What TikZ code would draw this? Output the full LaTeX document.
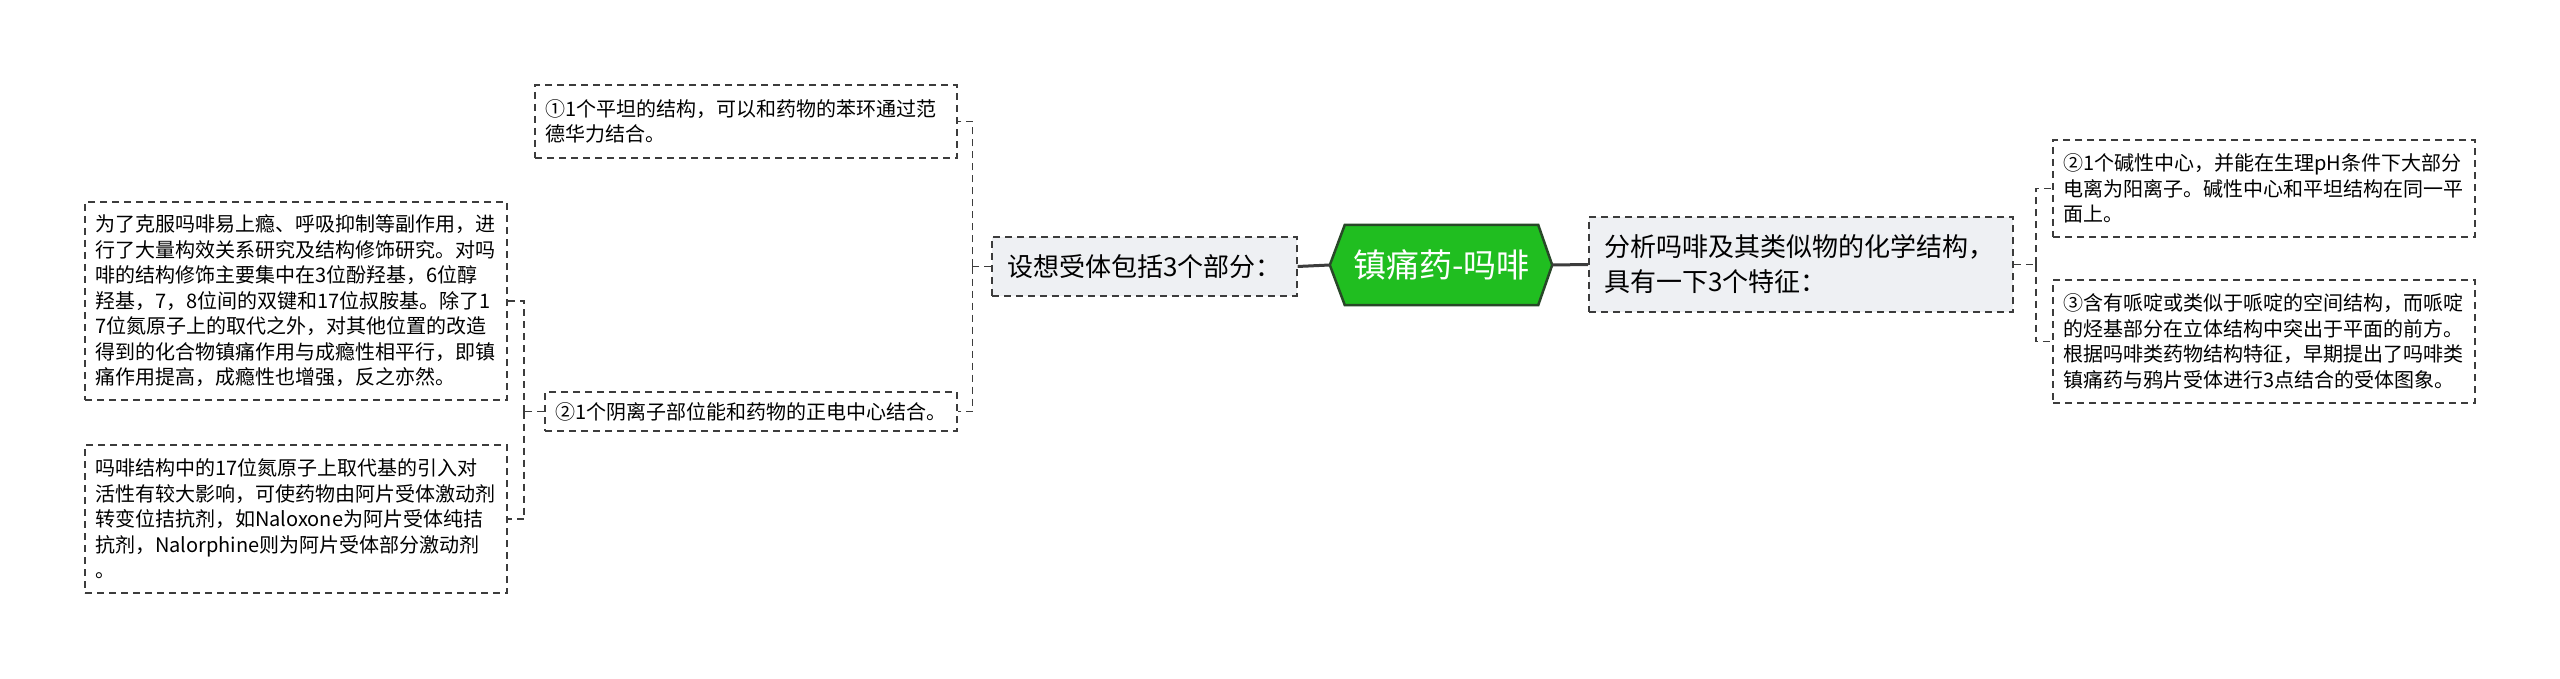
\documentclass[tikz,border=0pt]{standalone}
\usepackage{fontspec}
\setmainfont{Noto Sans CJK SC}
\usetikzlibrary{backgrounds}
\definecolor{rootgreen}{RGB}{32,190,32}
\definecolor{rootedge}{RGB}{40,72,40}
\definecolor{linegray}{RGB}{60,60,60}
\definecolor{topicfill}{RGB}{238,240,243}
\tikzset{
  % Dashed outline shared by boxes and links
  dashbox/.style={draw=linegray, line width=1.7pt, dash pattern=on 7pt off 5pt},
  % Central topic
  roottext/.style={minimum width=193pt, minimum height=80pt, inner sep=0pt,
    text=white, font=\fontsize{33}{38}\selectfont},
  rootshape/.style={draw=rootedge, fill=rootgreen, line width=2.5pt},
  % Main topic node
  tnode/.style={dashbox, fill=topicfill, align=left, inner xsep=15pt,
    inner ysep=3pt, font=\fontsize{26}{35}\selectfont},
  % Leaf node
  lnode/.style={dashbox, fill=white, align=left, text width=402pt,
    inner xsep=10pt, inner ysep=3pt, font=\fontsize{20}{25.5}\selectfont},
  % Connectors
  trunk/.style={draw=linegray, line width=3pt},
  link/.style={dashbox},
}

\begin{document}
\begin{tikzpicture}[x=1pt, y=-1pt]
  \useasboundingbox (0,0) rectangle (2560,679);

  \node[roottext] (root) at (1441.5,265) {镇痛药-吗啡};
  \begin{scope}[on background layer]
    \draw[rootshape] (root.north west) -- (root.north east)
      -- ([xshift=14pt]root.east) coordinate (root-e)
      -- (root.south east) -- (root.south west)
      -- ([xshift=-15pt]root.west) coordinate (root-w) -- cycle;
  \end{scope}

  % left side
  \node[tnode, minimum width=301pt, minimum height=59pt] (la) at (1144.5,266.5)
    {设想受体包括3个部分：};
  \node[lnode, minimum height=73pt] (lt) at (746,121.5)
    {①1个平坦的结构，可以和药物的苯环通过范\\德华力结合。};
  \node[lnode, text width=392pt, minimum height=39pt] (lb) at (751,411.5)
    {②1个阴离子部位能和药物的正电中心结合。};
  \node[lnode, minimum height=198pt] (ll1) at (296,301)
    {为了克服吗啡易上瘾、呼吸抑制等副作用，进\\
     行了大量构效关系研究及结构修饰研究。对吗\\
     啡的结构修饰主要集中在3位酚羟基，6位醇\\
     羟基，7，8位间的双键和17位叔胺基。除了1\\
     7位氮原子上的取代之外，对其他位置的改造\\
     得到的化合物镇痛作用与成瘾性相平行，即镇\\
     痛作用提高，成瘾性也增强，反之亦然。};
  \node[lnode, minimum height=148pt] (ll2) at (296,519)
    {吗啡结构中的17位氮原子上取代基的引入对\\
     活性有较大影响，可使药物由阿片受体激动剂\\
     转变位拮抗剂，如Naloxone为阿片受体纯拮\\
     抗剂，Nalorphine则为阿片受体部分激动剂\\
     。};

  % right side
  \node[tnode, text width=394pt, minimum height=95pt] (ra) at (1801,264.5)
    {分析吗啡及其类似物的化学结构，\\具有一下3个特征：};
  \node[lnode, minimum height=97pt] (rt) at (2264,188.5)
    {②1个碱性中心，并能在生理pH条件下大部分\\
     电离为阳离子。碱性中心和平坦结构在同一平\\
     面上。};
  \node[lnode, minimum height=123pt] (rb) at (2264,341.5)
    {③含有哌啶或类似于哌啶的空间结构，而哌啶\\
     的烃基部分在立体结构中突出于平面的前方。\\
     根据吗啡类药物结构特征，早期提出了吗啡类\\
     镇痛药与鸦片受体进行3点结合的受体图象。};

  \draw[trunk] (root-w) -- (la.east);
  \draw[trunk] (root-e) -- (ra.west);

  \draw[link] (la.west) -- ++(-19,0) coordinate (la-fork);
  \foreach \c in {lt,lb} \draw[link] (la-fork) |- (\c.east);
  \draw[link] (lb.west) -- ++(-20,0) coordinate (lb-fork);
  \foreach \c in {ll1,ll2} \draw[link] (lb-fork) |- (\c.east);
  \draw[link] (ra.east) -- ++(22,0) coordinate (ra-fork);
  \foreach \c in {rt,rb} \draw[link] (ra-fork) |- (\c.west);
\end{tikzpicture}
\end{document}
